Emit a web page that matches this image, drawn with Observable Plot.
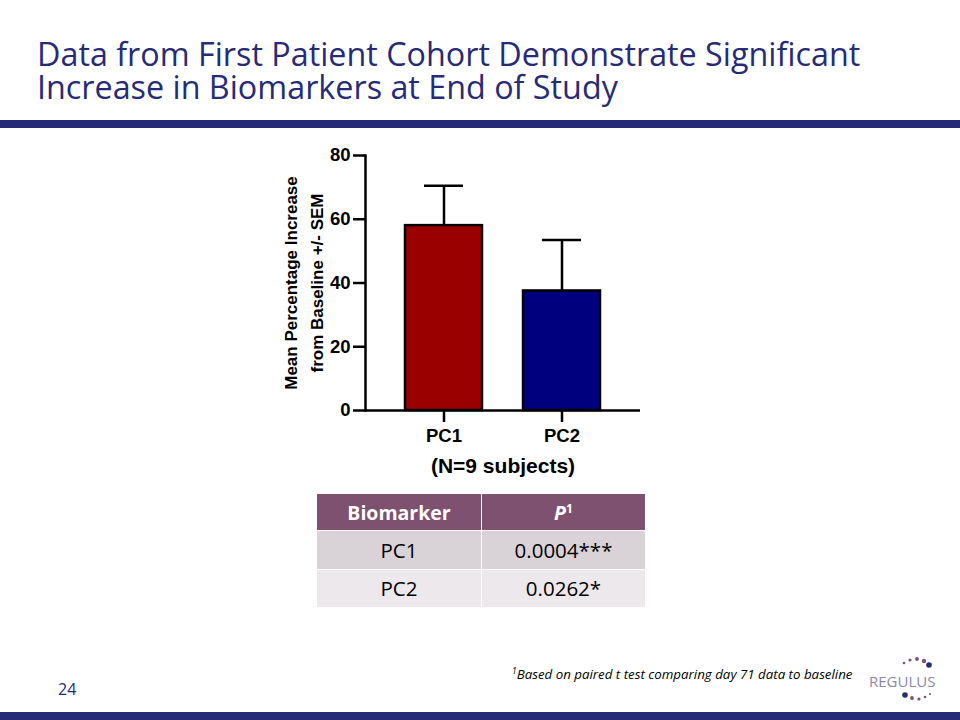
<!DOCTYPE html>
<html><head><meta charset="utf-8">
<script src="https://cdn.jsdelivr.net/npm/d3@7"></script>
<script src="https://cdn.jsdelivr.net/npm/@observablehq/plot@0.6"></script>
<style>
html,body{margin:0;padding:0;background:#fff;}
#page{position:relative;width:960px;height:720px;overflow:hidden;font-family:"Open Sans",sans-serif;}
#title{position:absolute;left:37px;top:37px;color:#272B76;font-size:32.3px;line-height:33px;white-space:nowrap;}
.bar{position:absolute;left:0;width:960px;background:#262B78;}
#chart{position:absolute;left:240px;top:140px;}
#tbl{position:absolute;left:316px;top:493px;border-collapse:collapse;font-family:"Open Sans",sans-serif;font-size:20.5px;}
#tbl td,#tbl th{padding:0;text-align:center;border:1px solid #fff;}
#tbl th{height:36px;background:#7E5170;color:#fff;font-weight:bold;font-size:19.5px;}
#tbl td{height:37.5px;}
#pnum{position:absolute;left:58px;top:678px;color:#272B76;font-size:16px;}
#foot{position:absolute;left:512px;top:665px;font-style:italic;font-size:13.3px;color:#000;white-space:nowrap;}
#logo{position:absolute;left:862px;top:654px;}
</style></head>
<body><div id="page">
<div id="title">Data from First Patient Cohort Demonstrate Significant<br>Increase in Biomarkers at End of Study</div>
<div class="bar" style="top:120px;height:8px"></div>
<div class="bar" style="top:712px;height:8px"></div>
<div id="chart"></div>
<table id="tbl"></table>
<div id="pnum">24</div>
<div id="foot"><sup style="font-size:8.5px">1</sup>Based on paired t test comparing day 71 data to baseline</div>
<div id="logo"><svg width="80" height="50">
<text x="7" y="33" font-family="'Open Sans',sans-serif" font-size="15" fill="#8a8aa8">REGULUS</text>
<g fill="#7E5170"><circle cx="42" cy="9" r="1.3"/><circle cx="48" cy="6" r="1.6"/><circle cx="55" cy="5" r="1.9"/><circle cx="62" cy="7" r="2.2"/></g>
<circle cx="67" cy="11" r="2.8" fill="#262B78"/>
<circle cx="43" cy="41" r="2.8" fill="#262B78"/>
<g fill="#7E5170"><circle cx="50" cy="44" r="1.9"/><circle cx="57" cy="45" r="1.6"/><circle cx="63" cy="43" r="1.3"/><circle cx="68" cy="40" r="1"/></g>
</svg></div>
</div>
<script>
const categories = ["PC1", "PC2"];
const means = [58, 37.5];
const sems = [12.5, 16];
const barColors = ["#9B0000", "#00007E"];
const yTicks = [0, 20, 40, 60, 80];
const tableHeader = ["Biomarker", "P"];
const tableBiomarkers = ["PC1", "PC2"];
const tablePValues = ["0.0004***", "0.0262*"];
const tableRowColors = ["#D9D3D8", "#EDE8EC"];

const data = categories.map((c, i) => ({cat: c, mean: means[i], top: means[i] + sems[i], color: barColors[i]}));

const font = "'Liberation Sans', Arial, sans-serif";
const chart = Plot.plot({
  width: 420, height: 350,
  marginLeft: 125, marginRight: 20, marginTop: 15, marginBottom: 80,
  style: {fontFamily: font, fontWeight: "bold", fontSize: "18px", color: "#000", background: "transparent", overflow: "visible"},
  x: {domain: categories, paddingInner: 0.35, paddingOuter: 0.34, label: null},
  y: {domain: [0, 80], ticks: yTicks, label: null},
  marks: [
    Plot.ruleX(data, {x: "cat", y1: "mean", y2: "top", stroke: "#000", strokeWidth: 2.5}),
    Plot.tickY(data, {x: "cat", y: "top", stroke: "#000", strokeWidth: 2.5, insetLeft: 19, insetRight: 19}),
    Plot.barY(data, {x: "cat", y: "mean", fill: "color", stroke: "#000", strokeWidth: 2.5}),
    Plot.axisY({ticks: yTicks, tickSize: 12, tickPadding: 3, strokeWidth: 2.5, fontSize: 18.5, fontWeight: "bold", label: null}),
    Plot.axisX({tickSize: 12, tickPadding: 6, strokeWidth: 2.5, fontSize: 18.5, fontWeight: "bold", label: null}),
    Plot.frame({anchor: "left", strokeWidth: 2.5}),
    Plot.ruleY([0], {strokeWidth: 2.5}),
    Plot.text(["Mean Percentage Increase"], {frameAnchor: "left", textAnchor: "middle", dx: -74, rotate: -90, fontSize: 17, fontWeight: "bold"}),
    Plot.text(["from Baseline +/- SEM"], {frameAnchor: "left", textAnchor: "middle", dx: -48, rotate: -90, fontSize: 17, fontWeight: "bold"}),
    Plot.text(["(N=9 subjects)"], {frameAnchor: "bottom", dy: 62, fontSize: 21, fontWeight: "bold"})
  ]
});
document.getElementById("chart").appendChild(chart);

const tbl = document.getElementById("tbl");
const hr = document.createElement("tr");
const th1 = document.createElement("th"); th1.style.width = "164px"; th1.textContent = tableHeader[0];
const th2 = document.createElement("th"); th2.style.width = "163px";
th2.innerHTML = "<i>" + tableHeader[1] + "</i><sup style='font-size:12px'>1</sup>";
hr.append(th1, th2); tbl.appendChild(hr);
tableBiomarkers.forEach((b, i) => {
  const tr = document.createElement("tr");
  const a = document.createElement("td"); a.textContent = b;
  const p = document.createElement("td"); p.textContent = tablePValues[i];
  a.style.background = p.style.background = tableRowColors[i];
  tr.append(a, p); tbl.appendChild(tr);
});
</script>
</body></html>
